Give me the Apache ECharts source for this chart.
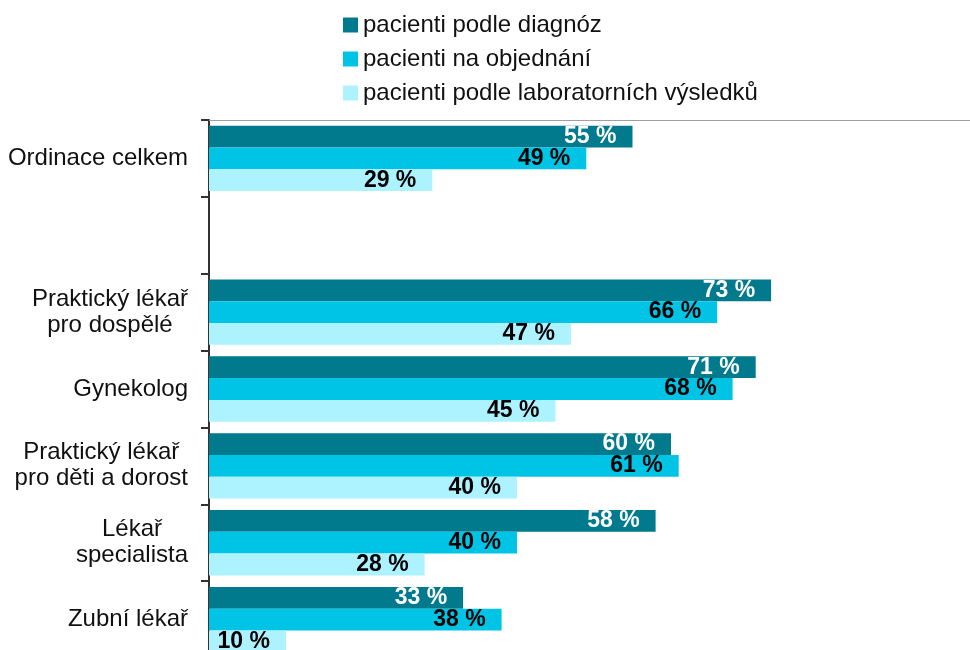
<!DOCTYPE html>
<html>
<head>
<meta charset="utf-8">
<script src="https://cdn.jsdelivr.net/npm/echarts@6/dist/echarts.min.js"></script>
<style>
  html, body { margin: 0; padding: 0; background: #fff; }
  #chart { width: 970px; height: 650px; }
</style>
</head>
<body>
<div id="chart"></div>
<script>
// kategorie (prázdná položka = mezera pod "Ordinace celkem")
var categories = [
  'Ordinace celkem',
  '',
  'Praktický lékař\npro dospělé',
  'Gynekolog',
  'Praktický lékař\npro děti a dorost',
  'Lékař\nspecialista',
  'Zubní lékař'
];
var seriesNames = [
  'pacienti podle diagnóz',
  'pacienti na objednání',
  'pacienti podle laboratorních výsledků'
];
var diagnozy   = [55, null, 73, 71, 60, 58, 33];
var objednani  = [49, null, 66, 68, 61, 40, 38];
var laborator  = [29, null, 47, 45, 40, 28, 10];

var colors = ['#007a8c', '#00c4e6', '#adf2ff'];
var labelColors = ['#ffffff', '#000000', '#000000'];
var font = "'Liberation Sans', Arial, sans-serif";

var chart = echarts.init(document.getElementById('chart'));

function makeSeries(name, data, i) {
  return {
    name: name,
    type: 'bar',
    data: data,
    barGap: '0%',
    barCategoryGap: '15%',
    itemStyle: { color: colors[i] },
    label: {
      show: true,
      position: 'insideRight',
      offset: [-11, 0],
      formatter: function (p) { return p.value + ' %'; },
      color: labelColors[i],
      fontFamily: font,
      fontWeight: 'bold',
      fontSize: 23
    },
    silent: true
  };
}

chart.setOption({
  animation: false,
  textStyle: { fontFamily: font },
  legend: {
    orient: 'vertical',
    left: 338,
    top: 8,
    itemWidth: 15,
    itemHeight: 15,
    itemGap: 10,
    icon: 'rect',
    selectedMode: false,
    textStyle: {
      fontFamily: font,
      fontSize: 24,
      color: '#111'
    },
    data: seriesNames
  },
  grid: {
    left: 209,
    top: 120,
    width: 770,
    height: 538,
    outerBoundsMode: 'none'
  },
  xAxis: {
    type: 'value',
    position: 'top',
    min: 0,
    max: 100,
    axisLine: { show: true, lineStyle: { color: '#a0a0a0', width: 1 } },
    axisTick: { show: false },
    axisLabel: { show: false },
    splitLine: { show: false }
  },
  yAxis: {
    type: 'category',
    inverse: true,
    data: categories,
    axisLine: { show: true, lineStyle: { color: '#333', width: 2 } },
    axisTick: { show: true, length: 8, lineStyle: { color: '#333', width: 2 } },
    axisLabel: {
      margin: 21,
      formatter: function (v) {
        if (!v) return '';
        return v.split('\n').map(function (s) { return '{c|' + s + '}'; }).join('\n');
      },
      rich: {
        c: {
          align: 'center',
          fontFamily: font,
          fontSize: 24,
          lineHeight: 26,
          color: '#111'
        }
      }
    }
  },
  series: [
    makeSeries(seriesNames[0], diagnozy, 0),
    makeSeries(seriesNames[1], objednani, 1),
    makeSeries(seriesNames[2], laborator, 2)
  ]
});
</script>
</body>
</html>
